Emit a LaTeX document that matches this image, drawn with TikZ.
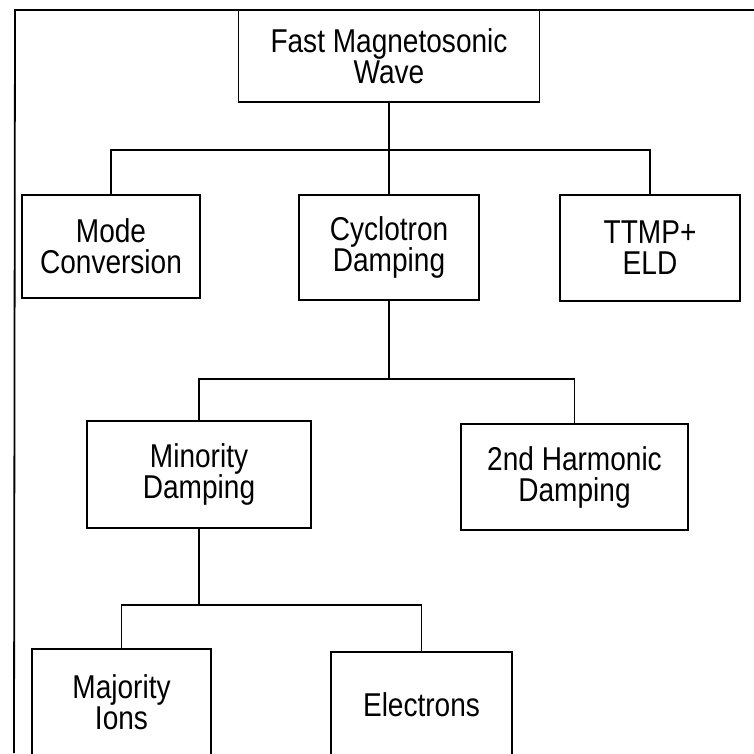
\documentclass[tikz,border=0pt]{standalone}
\usepackage{fontspec}
\setmainfont[FakeStretch=0.85]{Liberation Sans}

\tikzset{
  block/.style={draw, line width=1.8pt, inner sep=0pt, align=center,
    font=\fontsize{33}{31}\selectfont},
  link/.style={line width=1.8pt}
}

\begin{document}
\begin{tikzpicture}[x=1pt,y=-1pt]
  \useasboundingbox (0,0) rectangle (754,753);
  \clip (0,0) rectangle (754,753);

  % ========== Frame ==========
  \coordinate (frametl) at (15,10);
  \draw[link] (754,10) -- (frametl) -- (14,753);

  % ========== Level 0 ==========
  \node[block, minimum width=301, minimum height=92] (fmw) at (389,56) {Fast Magnetosonic\\Wave};

  % ========== Level 1 ==========
  \node[block, minimum width=178, minimum height=103] (mc) at (111,246.5) {Mode\\Conversion};
  \node[block, minimum width=180, minimum height=105] (cd) at (389,247.5) {Cyclotron\\Damping};
  \node[block, minimum width=180, minimum height=106] (ttmp) at (650,248) {TTMP+\\ELD};

  \coordinate (bar1) at (389,150);
  \draw[link] (fmw.south) -- (cd.north);
  \draw[link] (mc.north) |- (bar1) -| (ttmp.north);

  % ========== Level 2 ==========
  \node[block, minimum width=224, minimum height=107] (md) at (199,474.5) {Minority\\Damping};
  \node[block, minimum width=227, minimum height=106] (shd) at (574.5,477) {2nd Harmonic\\Damping};

  \coordinate (bar2) at (389,379);
  \draw[link] (cd.south) -- (bar2);
  \draw[link] (md.north) |- (bar2) -| (shd.north);

  % ========== Level 3 ==========
  \node[block, minimum width=179, minimum height=106] (mi) at (121.5,702) {Majority\\Ions};
  \node[block, minimum width=181, minimum height=106] (el) at (421.5,705) {Electrons};

  \coordinate (bar3) at (199,605);
  \draw[link] (md.south) -- (bar3);
  \draw[link] (mi.north) |- (bar3) -| (el.north);

\end{tikzpicture}
\end{document}
